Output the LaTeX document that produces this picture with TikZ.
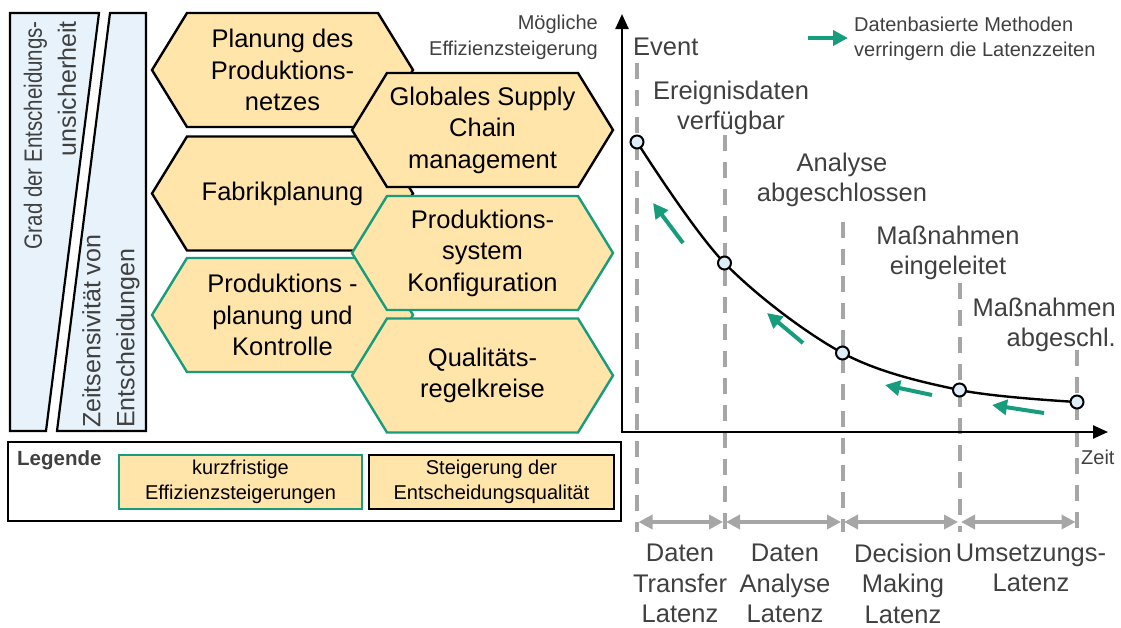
\documentclass[tikz,border=0pt]{standalone}
\usepackage{fontspec}
\setmainfont{Liberation Sans}
\usetikzlibrary{arrows.meta}

\definecolor{hexfill}{HTML}{FFE5A9}
\definecolor{fhgreen}{HTML}{179C7D}
\definecolor{panelblue}{HTML}{E7F2FA}
\definecolor{dotblue}{HTML}{DDEEF8}
\definecolor{guide}{HTML}{A6A6A6}
\definecolor{labelgray}{HTML}{404040}

\tikzset{
  panel/.style={draw=black, line width=2.2pt, fill=panelblue, line join=miter},
  hexblack/.style={draw=black, line width=2.4pt, fill=hexfill, line join=miter},
  hexgreen/.style={draw=fhgreen, line width=2.4pt, fill=hexfill, line join=miter},
  hextext/.style={align=center, font=\fontsize{25.5}{31.5}\selectfont, inner sep=0pt},
  sidetext/.style={text=labelgray, font=\fontsize{25}{34}\selectfont, inner sep=0pt, rotate=90},
  bigtext/.style={text=labelgray, font=\fontsize{25.5}{30.5}\selectfont, inner sep=0pt},
  smalltext/.style={text=labelgray, font=\fontsize{20}{25.5}\selectfont, inner sep=0pt},
  legtext/.style={align=center, font=\fontsize{20}{25}\selectfont, inner sep=0pt, fill=hexfill, line width=2.4pt},
  guideline/.style={draw=guide, line width=4pt, dash pattern=on 16pt off 11pt},
  span/.style={draw=guide, line width=3.5pt,
    {Triangle[length=14pt,width=14pt]}-{Triangle[length=14pt,width=14pt]},
    shorten <=1.5pt, shorten >=1.5pt},
  axis/.style={draw=black, line width=2.4pt, -{Triangle[length=15pt,width=13pt]}},
  trend/.style={draw=fhgreen, line width=4pt, -{Triangle[length=15pt,width=15pt]}},
  marker/.style={circle, draw=black, line width=2pt, fill=dotblue, minimum size=13pt, inner sep=0pt},
}

% elongated hexagon with a centred label: name, centre, look, text
\newcommand{\hexcell}[4]{%
  \path[#3, shift={#2}] (-130.5,0) -- (-95.5,-57) -- (95.5,-57) -- (130.5,0)
    -- (95.5,57) -- (-95.5,57) -- cycle;
  \node[hextext] (#1) at #2 {#4};
}

\begin{document}
\begin{tikzpicture}[x=1pt, y=-1pt]
\useasboundingbox (0,0) rectangle (1121,627);

% --- side panels ---
\path[panel] (10,13) -- (99,13) -- (46,431) -- (10,431) -- cycle;
\path[panel] (110,13) -- (146,13) -- (146,431) -- (57,431) -- cycle;
\node[sidetext, anchor=east, align=right] (uncertainty) at (50,21)
  {\scalebox{0.82}[1]{Grad der Entscheidungs-}\\unsicherheit};
\node[sidetext, anchor=west, align=left] (timesens) at (111,428)
  {Zeitsensivität von\\Entscheidungen};

% --- decision fields ---
\hexcell{netz}{(282.5,70)}{hexblack}{Planung des\\Produktions-\\netzes}
\hexcell{fabrik}{(282.5,193.5)}{hexblack}{Fabrikplanung}
\hexcell{ppk}{(282.5,315)}{hexgreen}{Produktions -\\planung und\\Kontrolle}
\hexcell{scm}{(482.5,130)}{hexblack}{Globales Supply\\Chain\\management}
\hexcell{psk}{(482.5,253)}{hexgreen}{Produktions-\\system\\Konfiguration}
\hexcell{qrk}{(482.5,375.5)}{hexgreen}{Qualitäts-\\regelkreise}

% --- legend ---
\path[draw=black, line width=2.4pt] (8,442) rectangle (621,521);
\node[anchor=west, inner sep=0pt, text=labelgray, font=\bfseries\fontsize{20.5}{23}\selectfont]
  (legtitle) at (17,460) {Legende};
\node[legtext, draw=fhgreen, minimum width=243pt, minimum height=54pt]
  (legshort) at (240.5,482) {kurzfristige\\Effizienzsteigerungen};
\node[legtext, draw=black, minimum width=245pt, minimum height=54pt]
  (legquality) at (491.5,482) {Steigerung der\\Entscheidungsqualität};

% --- latency diagram ---
\coordinate (origin) at (622,433.2);
\coordinate (ytip) at (622,14);
\coordinate (xorigin) at (620.8,432);
\coordinate (xtip) at (1108,432);

% milestone guides
\coordinate (g1t) at (637,63);   \coordinate (g1b) at (637,532);
\coordinate (g2t) at (724.5,135); \coordinate (g2b) at (724.5,532);
\coordinate (g3t) at (842.5,222); \coordinate (g3b) at (842.5,532);
\coordinate (g4t) at (959.5,283); \coordinate (g4b) at (959.5,532);
\coordinate (g5t) at (1077,350); \coordinate (g5b) at (1077,532);
\foreach \i in {1,...,5} \draw[guideline] (g\i t) -- (g\i b);

% latency spans
\coordinate (s1) at (637,522);
\coordinate (s2) at (724.5,522);
\coordinate (s3) at (842.5,522);
\coordinate (s4) at (959.5,522);
\coordinate (s5) at (1077,522);
\draw[span] (s1) -- (s2);
\draw[span] (s2) -- (s3);
\draw[span] (s3) -- (s4);
\draw[span] (s4) -- (s5);

% axes
\draw[axis] (origin) -- (ytip);
\draw[axis] (xorigin) -- (xtip);

% efficiency curve
\coordinate (c1) at (637,142);
\coordinate (c2) at (724.5,263);
\coordinate (c3) at (842.5,353);
\coordinate (c4) at (959.5,390);
\coordinate (c5) at (1077,402);
\draw[black, line width=2.4pt] plot[smooth, tension=0.55] coordinates {(c1) (c2) (c3) (c4) (c5)};
\foreach \i in {1,...,5} \node[marker] (m\i) at (c\i) {};

% latency reduction arrows
\coordinate (a1s) at (683,243);  \coordinate (a1e) at (653,203);
\coordinate (a2s) at (803,343);  \coordinate (a2e) at (767,313);
\coordinate (a3s) at (932,395);  \coordinate (a3e) at (885,385);
\coordinate (a4s) at (1044,413); \coordinate (a4e) at (992,405);
\foreach \i in {1,...,4} \draw[trend] (a\i s) -- (a\i e);

% key
\coordinate (k0) at (808,38); \coordinate (k1) at (848,38);
\draw[trend] (k0) -- (k1);
\node[smalltext, align=left, anchor=west] (keytext) at (854,39)
  {Datenbasierte Methoden\\verringern die Latenzzeiten};

% axis labels
\node[smalltext, align=right, anchor=east] (ylabel) at (598,37.5)
  {Mögliche\\Effizienzsteigerung};
\node[smalltext, anchor=west] (xlabel) at (1081,457) {Zeit};

% milestones
\node[bigtext, anchor=west] (event) at (633,47) {Event};
\node[bigtext, align=center] (ms2) at (731,108) {Ereignisdaten\\verfügbar};
\node[bigtext, align=center] (ms3) at (842,180) {Analyse\\abgeschlossen};
\node[bigtext, align=center] (ms4) at (948,253) {Maßnahmen\\eingeleitet};
\node[bigtext, align=right, anchor=east] (ms5) at (1116,325) {Maßnahmen\\abgeschl.};

% latencies
\node[bigtext, align=center] (lat1) at (680,583.5) {Daten\\Transfer\\Latenz};
\node[bigtext, align=center] (lat2) at (785,583.5) {Daten\\Analyse\\Latenz};
\node[bigtext, align=center] (lat3) at (903,583.5) {Decision\\Making\\Latenz};
\node[bigtext, align=center] (lat4) at (1031,568) {Umsetzungs-\\Latenz};
\end{tikzpicture}
\end{document}
